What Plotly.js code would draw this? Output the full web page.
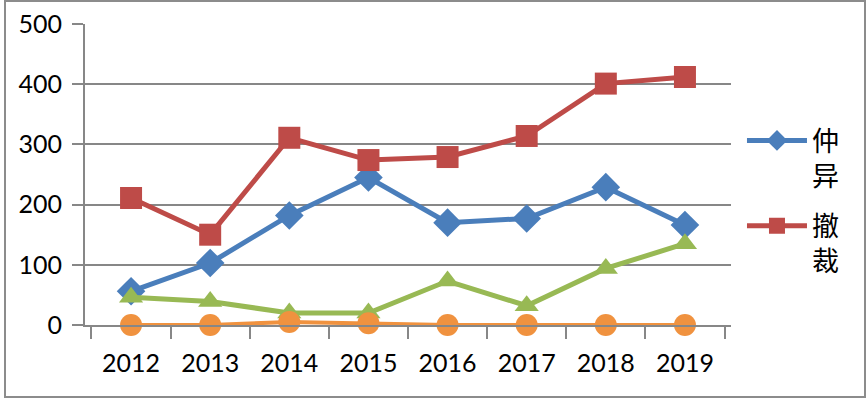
<!DOCTYPE html>
<html>
<head>
<meta charset="utf-8">
<script src="https://cdn.plot.ly/plotly-3.0.1.min.js"></script>
<style>
  html, body { margin: 0; padding: 0; background: #ffffff; }
  #frame { position: absolute; left: 4px; top: 0px; width: 858px; height: 394px; border: 2px solid #8c8c8c; background: #fff; }
  #chart { width: 858px; height: 394px; }
</style>
</head>
<body>
<div id="frame"><div id="chart"></div></div>
<script>
const years = ["2012", "2013", "2014", "2015", "2016", "2017", "2018", "2019"];
const seriesBlueName = "仲<br>异";
const seriesRedName = "撤<br>裁";
const seriesBlue = [56, 103, 182, 245, 170, 177, 229, 166];
const seriesRed = [211, 150, 311, 274, 279, 314, 401, 412];
const seriesGreen = [46, 39, 20, 20, 73, 32, 94, 135];
const seriesOrange = [0, 0, 5, 3, 0, 0, 0, 0];
const yTicks = [0, 100, 200, 300, 400, 500];

const gray = "#878787";
const fontStack = "Lato, 'Noto Sans CJK SC', sans-serif";

const traces = [
  { x: years, y: seriesBlue, name: seriesBlueName, legendgroup: "a", type: "scatter", mode: "lines+markers", cliponaxis: false,
    line: { color: "#4A7EBB", width: 5 }, marker: { symbol: "diamond", size: 22, color: "#4A7EBB" } },
  { x: years, y: seriesRed, name: seriesRedName, legendgroup: "b", type: "scatter", mode: "lines+markers", cliponaxis: false,
    line: { color: "#BE4B48", width: 5 }, marker: { symbol: "square", size: 22, color: "#BE4B48" } },
  { x: years, y: seriesGreen, name: "系列3", legendgroup: "c", type: "scatter", mode: "lines+markers", showlegend: false, cliponaxis: false,
    line: { color: "#98B954", width: 5 }, marker: { symbol: "triangle-up", size: 21, color: "#98B954" } },
  { x: years, y: seriesOrange, name: "系列4", legendgroup: "d", type: "scatter", mode: "lines+markers", showlegend: false, cliponaxis: false,
    line: { color: "#F0923F", width: 4 }, marker: { symbol: "circle", size: 22, color: "#F0923F" } }
];

const layout = {
  width: 858, height: 394,
  margin: { l: 79, r: 133, t: 22, b: 71 },
  paper_bgcolor: "#ffffff", plot_bgcolor: "#ffffff",
  font: { family: fontStack, color: "#000000", size: 25 },
  showlegend: true,
  legend: {
    x: 1.017, xanchor: "left", y: 0.693, yanchor: "top",
    valign: "top", tracegroupgap: 12,
    font: { family: "'Noto Sans CJK SC', sans-serif", size: 27, color: "#000" },
    bgcolor: "rgba(0,0,0,0)", itemwidth: 60
  },
  xaxis: {
    type: "category", tickson: "boundaries", ticks: "outside", ticklen: 12, tickwidth: 2, tickcolor: gray,
    showline: true, linecolor: gray, linewidth: 2, showgrid: false, zeroline: false,
    tickfont: { family: fontStack, size: 25, color: "#000" }, ticklabelstandoff: 15
  },
  yaxis: {
    range: [0, 500], tickvals: yTicks, ticktext: yTicks.map(String),
    ticks: "outside", ticklen: 11, tickwidth: 2, tickcolor: gray,
    showline: true, linecolor: gray, linewidth: 2, showgrid: true, gridcolor: gray, gridwidth: 2,
    zeroline: false, tickfont: { family: fontStack, size: 25, color: "#000" }, ticklabelstandoff: 5
  }
};

Plotly.newPlot("chart", traces, layout, { displayModeBar: false, staticPlot: true });
</script>
</body>
</html>
